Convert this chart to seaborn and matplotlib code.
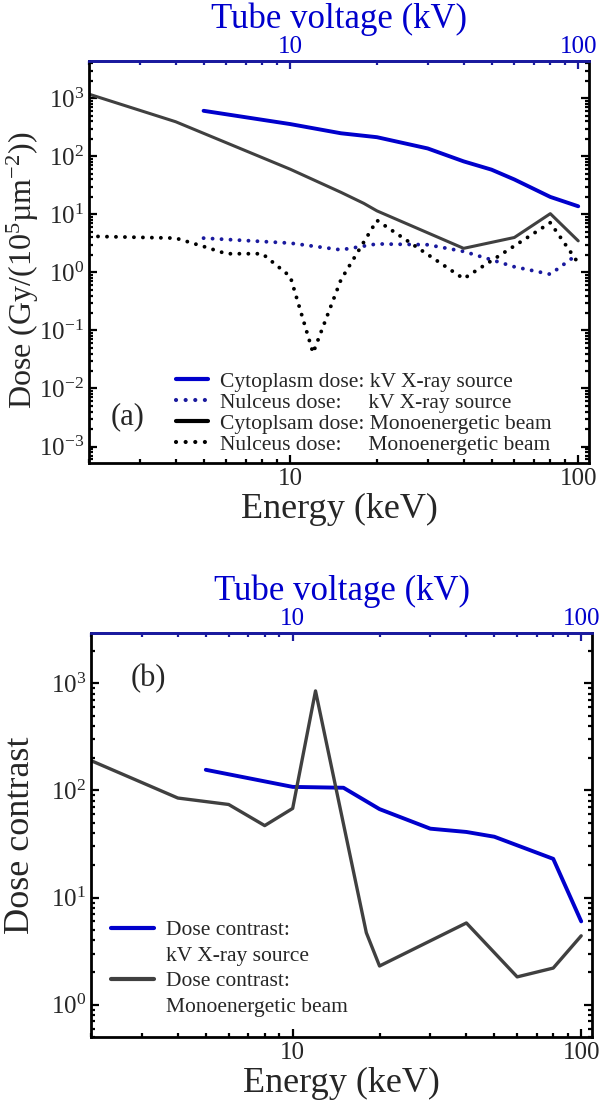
import matplotlib
matplotlib.use('Agg')
import matplotlib.pyplot as plt
import seaborn as sns
import pandas as pd
from matplotlib.ticker import LogLocator, NullFormatter
from matplotlib.lines import Line2D

# (a) dose per 10^5 um^-2
kv_cyto_x = [5, 10, 15, 20, 30, 40, 50, 60, 80, 100]
kv_cyto_y = [610, 360, 250, 214, 137, 82, 59, 40, 20, 13.8]
kv_nuc_x = [5, 10, 15, 20, 30, 40, 50, 60, 80, 100]
kv_nuc_y = [3.9, 3.2, 2.45, 3.1, 3.0, 2.3, 1.65, 1.25, 0.93, 2.1]
mono_cyto_x = [2, 4, 10, 15, 18, 20, 40, 60, 80, 100]
mono_cyto_y = [1180, 395, 60, 24, 15.5, 11.5, 2.6, 4.0, 10.3, 3.5]
mono_nuc_x = [2, 4, 5, 6, 8, 10, 12, 15, 20, 40, 80, 100]
mono_nuc_y = [4.2, 3.9, 2.8, 2.1, 2.1, 0.85, 0.041, 0.75, 7.9, 0.78, 7.2, 1.45]

# (b) dose contrast
kv_con_x = [5, 10, 15, 20, 30, 40, 50, 80, 100]
kv_con_y = [156, 108, 106, 67, 44, 41, 37, 23, 6.0]
mono_con_x = [2, 4, 6, 8, 10, 12, 18, 20, 40, 60, 80, 100]
mono_con_y = [190, 85, 74, 47, 68, 850, 4.7, 2.3, 5.8, 1.82, 2.2, 4.4]

legend_a = ['Cytoplasm dose: kV X-ray source',
            'Nulceus dose:     kV X-ray source',
            'Cytoplsam dose: Monoenergetic beam',
            'Nulceus dose:     Monoenergetic beam']
legend_b = ['Dose contrast:', 'kV X-ray source',
            'Dose contrast:', 'Monoenergetic beam']

BLUE = '#0000cc'
DBLUE = '#1a1a9e'
GRAY = '#404040'
DOT = (0, (0.01, 2.3))

sns.set_style('ticks')
plt.rcParams['font.family'] = ['Liberation Serif', 'DejaVu Serif']
plt.rcParams['mathtext.fontset'] = 'custom'
plt.rcParams['mathtext.rm'] = 'Liberation Serif'
plt.rcParams['mathtext.it'] = 'Liberation Serif:italic'
plt.rcParams['axes.unicode_minus'] = False

fig = plt.figure(figsize=(6, 11.08), dpi=100)
ax1 = fig.add_axes([89/600, 1-463/1108, 500/600, 402/1108])
ax2 = fig.add_axes([91/600, 1-1037/1108, 501/600, 404/1108])


def style_axis(ax, ylim):
    ax.set_xscale('log')
    ax.set_yscale('log')
    ax.set_xlim(2, 109)
    ax.set_ylim(*ylim)
    ax.set_xticks([10, 100], ['10', '100'])
    ax.xaxis.set_minor_formatter(NullFormatter())
    ax.yaxis.set_major_locator(LogLocator(base=10, numticks=20))
    ax.yaxis.set_minor_locator(LogLocator(base=10, subs=range(2, 10), numticks=20))
    ax.yaxis.set_minor_formatter(NullFormatter())
    ax.tick_params(which='both', direction='in', top=False, right=True,
                   labelsize=18, width=1.6, color='black')
    ax.tick_params(which='major', length=6)
    ax.tick_params(which='minor', length=3)
    for s in ['left', 'right', 'bottom']:
        ax.spines[s].set_linewidth(2)
        ax.spines[s].set_color('black')
    ax.spines['top'].set_color(DBLUE)
    ax.spines['top'].set_linewidth(2)
    ax.set_xlabel('Energy (keV)', fontsize=26, labelpad=2)

    sec = ax.secondary_xaxis('top')
    sec.set_xticks([10, 100], ['10', '100'])
    sec.xaxis.set_minor_formatter(NullFormatter())
    sec.tick_params(which='both', direction='in', colors=DBLUE, labelsize=18,
                    width=1.6, pad=2)
    sec.tick_params(which='major', length=6)
    sec.tick_params(which='minor', length=3)
    sec.tick_params(axis='x', labelcolor=BLUE)
    sec.spines['top'].set_color(DBLUE)
    sec.spines['top'].set_linewidth(2)
    sec.set_xlabel('Tube voltage (kV)', fontsize=25, color=BLUE, labelpad=6)


# panel (a)
sns.lineplot(x=kv_cyto_x, y=kv_cyto_y, ax=ax1, color=BLUE, lw=2.8)
sns.lineplot(x=kv_nuc_x, y=kv_nuc_y, ax=ax1, color=DBLUE, lw=2.8,
             linestyle=DOT, dash_capstyle='round')
sns.lineplot(x=mono_cyto_x, y=mono_cyto_y, ax=ax1, color=GRAY, lw=2.2)
sns.lineplot(x=mono_nuc_x, y=mono_nuc_y, ax=ax1, color='black', lw=2.8,
             linestyle=DOT, dash_capstyle='round')
style_axis(ax1, (5.2e-4, 4400))
ax1.set_ylabel(r'Dose (Gy/(10$^5$µm$^{-2}$))', fontsize=23)
ax1.yaxis.set_label_coords(-0.096, 0.48)
handles_a = [Line2D([], [], color=BLUE, lw=3),
             Line2D([], [], color=DBLUE, lw=3, linestyle=DOT, dash_capstyle='round'),
             Line2D([], [], color='black', lw=3),
             Line2D([], [], color='black', lw=3, linestyle=DOT, dash_capstyle='round')]
ax1.legend(handles_a, legend_a, loc='lower left', bbox_to_anchor=(0.174, 0.02),
           frameon=False, fontsize=15.5, handlelength=1.5, handletextpad=0.55,
           labelspacing=0.05, borderpad=0, borderaxespad=0)
ax1.text(0.078, 0.115, '(a)', transform=ax1.transAxes, fontsize=22,
         ha='center', va='center')

# panel (b)
sns.lineplot(x=kv_con_x, y=kv_con_y, ax=ax2, color=BLUE, lw=2.8)
sns.lineplot(x=mono_con_x, y=mono_con_y, ax=ax2, color=GRAY, lw=2.4)
style_axis(ax2, (0.5, 2950))
ax2.set_ylabel('Dose contrast', fontsize=26)
ax2.yaxis.set_label_coords(-0.108, 0.5)
handles_b = [Line2D([], [], color=BLUE, lw=3), Line2D([], [], color='none'),
             Line2D([], [], color=GRAY, lw=3), Line2D([], [], color='none')]
ax2.legend(handles_b, legend_b, loc='lower left', bbox_to_anchor=(0.04, 0.05),
           frameon=False, fontsize=15.5, handlelength=2.0, handletextpad=0.55,
           labelspacing=0.25, borderpad=0, borderaxespad=0)
ax2.text(0.114, 0.888, '(b)', transform=ax2.transAxes, fontsize=22,
         ha='center', va='center')

fig.savefig('out.png', dpi=100)
